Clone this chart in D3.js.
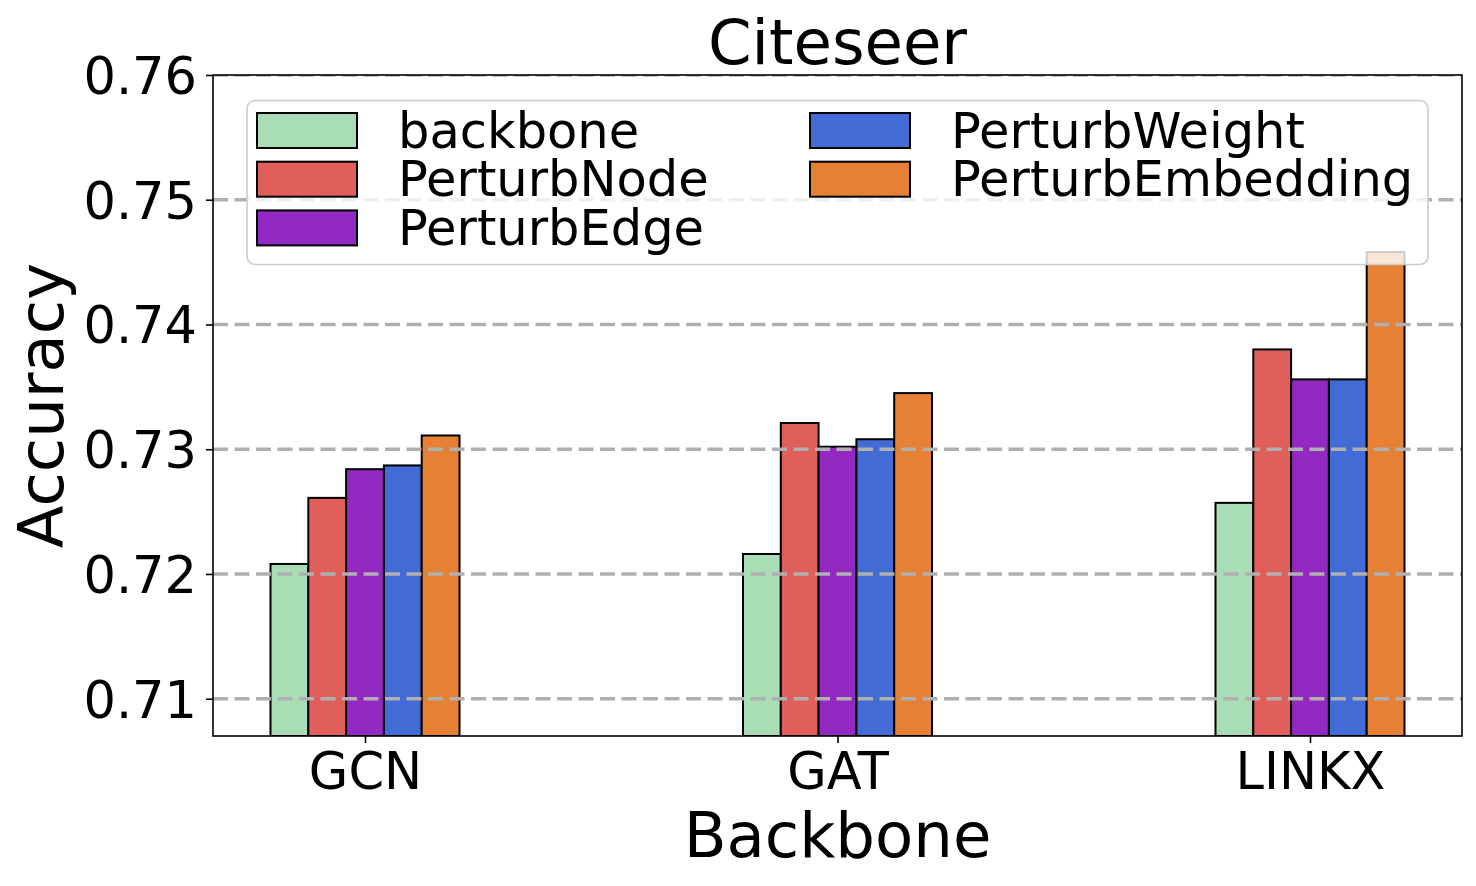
<!DOCTYPE html>
<html>
<head>
<meta charset="utf-8">
<script src="https://cdn.jsdelivr.net/npm/d3@7"></script>
<style>
    body { margin: 0; background: #fff; }
    text { font-family: "DejaVu Sans", sans-serif; fill: #000; }
</style>
</head>
<body>
<div id="chart"></div>
<script>
// data
let categories = ["GCN", "GAT", "LINKX"];
let methods = ["backbone", "PerturbNode", "PerturbEdge", "PerturbWeight", "PerturbEmbedding"];
let backbone = [0.7208, 0.7216, 0.7257];
let perturbNode = [0.7261, 0.7321, 0.7380];
let perturbEdge = [0.7284, 0.7302, 0.7356];
let perturbWeight = [0.7287, 0.7308, 0.7356];
let perturbEmbedding = [0.7311, 0.7345, 0.7458];
let yTicks = [0.71, 0.72, 0.73, 0.74, 0.75, 0.76];
let methodColors = ["#a8ddb5", "#e05f5b", "#9328c3", "#436bd6", "#e58035"];

let series = [backbone, perturbNode, perturbEdge, perturbWeight, perturbEmbedding];

let width = 1476, height = 886;
let margin = {top: 75, right: 14, bottom: 150, left: 213};
let barWidth = 0.08;

let svg = d3.select("#chart").append("svg")
    .attr("width", width)
    .attr("height", height);

// scales
let x = d3.scaleLinear()
    .domain([-0.3217, 2.3217])
    .range([margin.left, width - margin.right]);

let y = d3.scaleLinear()
    .domain([0.70701, 0.76])
    .range([height - margin.bottom, margin.top]);

svg.append("clipPath").attr("id", "plot-clip")
    .append("rect")
    .attr("x", x.range()[0])
    .attr("y", y.range()[1])
    .attr("width", x.range()[1] - x.range()[0])
    .attr("height", y.range()[0] - y.range()[1]);

// bars
let plot = svg.append("g").attr("clip-path", "url(#plot-clip)");

series.forEach((vals, i) => {
    plot.selectAll(".bar-" + i)
        .data(vals)
        .enter().append("rect")
        .attr("class", "bar-" + i)
        .attr("x", (d, j) => x(j + (i - 2) * barWidth - barWidth / 2))
        .attr("width", x(barWidth) - x(0))
        .attr("y", d => y(d))
        .attr("height", d => y(y.domain()[0]) - y(d))
        .attr("fill", methodColors[i])
        .attr("stroke", "#000")
        .attr("stroke-width", 2);
});

// grid on top of bars
plot.selectAll(".grid")
    .data(yTicks)
    .enter().append("line")
    .attr("class", "grid")
    .attr("x1", x.range()[0])
    .attr("x2", x.range()[1])
    .attr("y1", d => y(d))
    .attr("y2", d => y(d))
    .attr("stroke", "#b0b0b0")
    .attr("stroke-width", 3.6)
    .attr("stroke-dasharray", "15,6.5");

// axes
let yAxis = d3.axisLeft(y)
    .tickValues(yTicks)
    .tickFormat(d3.format(".2f"))
    .tickSize(7)
    .tickPadding(9);

let xAxis = d3.axisBottom(x)
    .tickValues([0, 1, 2])
    .tickFormat(d => categories[d])
    .tickSize(7)
    .tickPadding(8);

let gy = svg.append("g")
    .attr("transform", `translate(${x.range()[0]},0)`)
    .call(yAxis);
gy.select(".domain").remove();
gy.selectAll("line").attr("stroke", "#000").attr("stroke-width", 1.6);
gy.selectAll("text").style("font-size", "51px").attr("dy", "0.36em");

let gx = svg.append("g")
    .attr("transform", `translate(0,${y.range()[0]})`)
    .call(xAxis);
gx.select(".domain").remove();
gx.selectAll("line").attr("stroke", "#000").attr("stroke-width", 1.6);
gx.selectAll("text").style("font-size", "51px").attr("dy", "0.74em");

// frame
svg.append("rect")
    .attr("x", x.range()[0])
    .attr("y", y.range()[1])
    .attr("width", x.range()[1] - x.range()[0])
    .attr("height", y.range()[0] - y.range()[1])
    .attr("fill", "none")
    .attr("stroke", "#000")
    .attr("stroke-width", 1.6);

// titles
let midX = (x.range()[0] + x.range()[1]) / 2;

svg.append("text")
    .attr("x", midX)
    .attr("y", 64)
    .attr("text-anchor", "middle")
    .style("font-size", "62.5px")
    .text("Citeseer");

svg.append("text")
    .attr("x", midX)
    .attr("y", 857)
    .attr("text-anchor", "middle")
    .style("font-size", "62.5px")
    .text("Backbone");

svg.append("text")
    .attr("transform", `translate(63,${(y.range()[0] + y.range()[1]) / 2}) rotate(-90)`)
    .attr("text-anchor", "middle")
    .style("font-size", "62.5px")
    .text("Accuracy");

// legend
let legend = svg.append("g");

legend.append("rect")
    .attr("x", 247)
    .attr("y", 100.5)
    .attr("width", 1428 - 247)
    .attr("height", 264.5 - 100.5)
    .attr("rx", 8)
    .attr("fill", "#fff")
    .attr("fill-opacity", 0.8)
    .attr("stroke", "#cccccc")
    .attr("stroke-width", 1.6);

let legendCols = [257, 810];
let legendRows = [130.5, 179.2, 227.9];

methods.forEach((m, i) => {
    let col = i < 3 ? 0 : 1;
    let row = i < 3 ? i : i - 3;
    let lx = legendCols[col];
    let ly = legendRows[row];

    legend.append("rect")
        .attr("x", lx)
        .attr("y", ly - 17.5)
        .attr("width", 100)
        .attr("height", 35)
        .attr("fill", methodColors[i])
        .attr("stroke", "#000")
        .attr("stroke-width", 2);

    legend.append("text")
        .attr("x", lx + 141)
        .attr("y", ly + 17)
        .style("font-size", "49.5px")
        .text(m);
});
</script>
</body>
</html>
